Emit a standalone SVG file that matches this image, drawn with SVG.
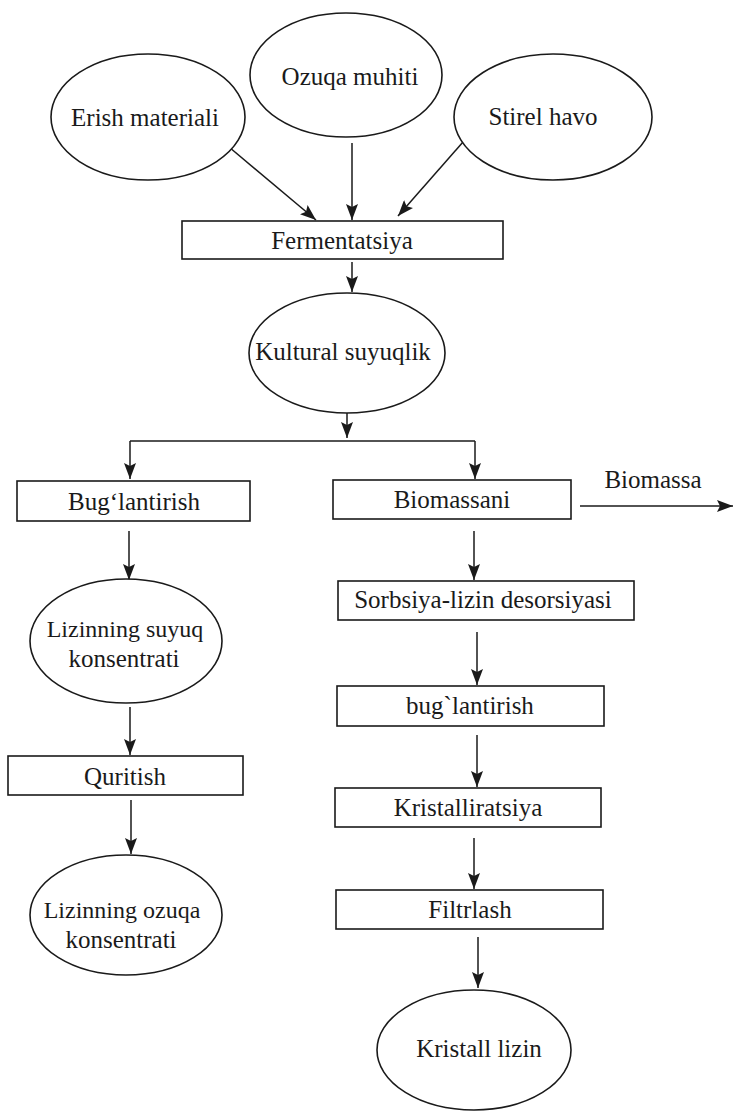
<svg xmlns="http://www.w3.org/2000/svg" width="734" height="1111" viewBox="0 0 734 1111">
  <defs>
    <style>
      .node ellipse, .node rect { fill: #ffffff; stroke: #1a1a1a; stroke-width: 1.6; }
      .lbl { font-family: "Liberation Serif", "Times New Roman", serif; font-size: 25px; fill: #1a1a1a; text-anchor: middle; }
      .sm { font-size: 24px; }
      .edge { fill: none; stroke: #1a1a1a; stroke-width: 1.5; }
    </style>
    <marker id="arrow" markerUnits="userSpaceOnUse" markerWidth="17" markerHeight="12" refX="16" refY="6" orient="auto">
      <path d="M0,0 L16,6 L0,12 L3,6 z" fill="#1a1a1a"/>
    </marker>
  </defs>

  <rect x="0" y="0" width="734" height="1111" fill="#ffffff"/>

  <!-- connectors -->
  <g id="connectors">
    <line class="edge" x1="229" y1="147" x2="316" y2="220" marker-end="url(#arrow)"/>
    <line class="edge" x1="352" y1="143" x2="352" y2="220" marker-end="url(#arrow)"/>
    <line class="edge" x1="463" y1="142" x2="398" y2="216" marker-end="url(#arrow)"/>
    <line class="edge" x1="352" y1="262" x2="352" y2="292" marker-end="url(#arrow)"/>
    <line class="edge" x1="347" y1="413" x2="347" y2="438" marker-end="url(#arrow)"/>
    <line class="edge" x1="130" y1="441" x2="475" y2="441"/>
    <line class="edge" x1="130" y1="441" x2="130" y2="479" marker-end="url(#arrow)"/>
    <line class="edge" x1="475" y1="441" x2="475" y2="479" marker-end="url(#arrow)"/>
    <line class="edge" x1="580" y1="506" x2="733" y2="506" marker-end="url(#arrow)"/>
    <line class="edge" x1="129" y1="531" x2="129" y2="580" marker-end="url(#arrow)"/>
    <line class="edge" x1="474" y1="531" x2="474" y2="580" marker-end="url(#arrow)"/>
    <line class="edge" x1="130" y1="707" x2="130" y2="755" marker-end="url(#arrow)"/>
    <line class="edge" x1="131" y1="800" x2="131" y2="854" marker-end="url(#arrow)"/>
    <line class="edge" x1="477" y1="632" x2="477" y2="685" marker-end="url(#arrow)"/>
    <line class="edge" x1="477" y1="735" x2="477" y2="787" marker-end="url(#arrow)"/>
    <line class="edge" x1="474" y1="838" x2="474" y2="889" marker-end="url(#arrow)"/>
    <line class="edge" x1="478" y1="937" x2="478" y2="988" marker-end="url(#arrow)"/>
    <text class="lbl" x="653" y="488">Biomassa</text>
  </g>

  <!-- inputs -->
  <g id="erish" class="node">
    <ellipse cx="148" cy="117" rx="97" ry="63"/>
    <text class="lbl" x="145" y="126">Erish materiali</text>
  </g>
  <g id="ozuqa" class="node">
    <ellipse cx="346" cy="75" rx="96" ry="62"/>
    <text class="lbl" x="350" y="85">Ozuqa muhiti</text>
  </g>
  <g id="stirel" class="node">
    <ellipse cx="553" cy="117" rx="99" ry="63"/>
    <text class="lbl" x="543" y="125">Stirel havo</text>
  </g>

  <!-- fermentation -->
  <g id="fermentatsiya" class="node">
    <rect x="182" y="221" width="321" height="38"/>
    <text class="lbl" x="342" y="249">Fermentatsiya</text>
  </g>
  <g id="kultural" class="node">
    <ellipse cx="347" cy="353" rx="98" ry="60"/>
    <text class="lbl" x="343" y="360">Kultural suyuqlik</text>
  </g>

  <!-- left branch -->
  <g id="buglantirish1" class="node">
    <rect x="17" y="481" width="233" height="40"/>
    <text class="lbl" x="134" y="510">Bug‘lantirish</text>
  </g>
  <g id="lizin-suyuq" class="node">
    <ellipse cx="126" cy="641" rx="96" ry="62"/>
    <text class="lbl sm" x="125" y="637">Lizinning suyuq</text>
    <text class="lbl" x="124" y="667">konsentrati</text>
  </g>
  <g id="quritish" class="node">
    <rect x="8" y="756" width="235" height="39"/>
    <text class="lbl" x="125" y="785">Quritish</text>
  </g>
  <g id="lizin-ozuqa" class="node">
    <ellipse cx="126" cy="915" rx="96" ry="60"/>
    <text class="lbl sm" x="122" y="918">Lizinning ozuqa</text>
    <text class="lbl" x="121" y="948">konsentrati</text>
  </g>

  <!-- right branch -->
  <g id="biomassani" class="node">
    <rect x="333" y="480" width="238" height="39"/>
    <text class="lbl" x="452" y="508">Biomassani</text>
  </g>
  <g id="sorbsiya" class="node">
    <rect x="338" y="581" width="296" height="39"/>
    <text class="lbl" x="483" y="608">Sorbsiya-lizin desorsiyasi</text>
  </g>
  <g id="buglantirish2" class="node">
    <rect x="337" y="686" width="267" height="40"/>
    <text class="lbl" x="470" y="714">bug`lantirish</text>
  </g>
  <g id="kristalliratsiya" class="node">
    <rect x="335" y="788" width="266" height="39"/>
    <text class="lbl" x="468" y="816">Kristalliratsiya</text>
  </g>
  <g id="filtrlash" class="node">
    <rect x="336" y="890" width="267" height="39"/>
    <text class="lbl" x="470" y="918">Filtrlash</text>
  </g>
  <g id="kristall-lizin" class="node">
    <ellipse cx="474" cy="1050" rx="97" ry="60"/>
    <text class="lbl" x="479" y="1057">Kristall lizin</text>
  </g>
</svg>
